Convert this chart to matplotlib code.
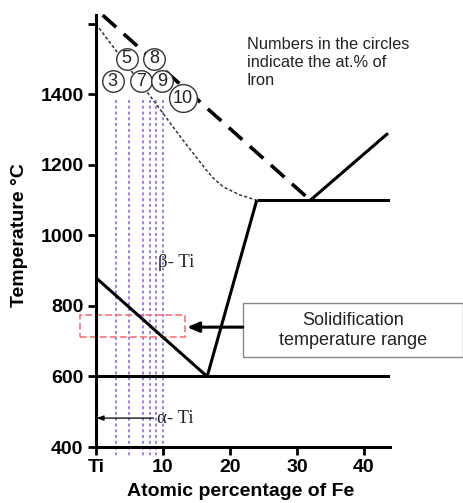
import matplotlib
matplotlib.use("Agg")
import matplotlib.pyplot as plt
from matplotlib.patches import Rectangle

# ---- data ----
x_ticks = [0, 10, 20, 30, 40]
x_ticklabels = ["Ti", "10", "20", "30", "40"]
y_ticks = [400, 600, 800, 1000, 1200, 1400, 1600]
y_ticklabels = ["400", "600", "800", "1000", "1200", "1400", ""]

liquidus_dashed_x = [1.0, 32.0]
liquidus_dashed_y = [1625, 1100]
liquidus_dotted_x = [0, 8.5, 12.8, 16.5, 17.5, 19.0, 21.5, 24.0]
liquidus_dotted_y = [1600, 1385, 1275, 1185, 1163, 1138, 1115, 1100]
right_liq_x = [32.0, 43.6]
right_liq_y = [1100, 1290]
eutectic_hi_x = [24.0, 44.0]
eutectic_hi_y = [1100, 1100]
solvus_x = [16.6, 24.0]
solvus_y = [600, 1100]
beta_transus_x = [0, 16.6]
beta_transus_y = [880, 600]
eutectoid_x = [0, 44.0]
eutectoid_y = [600, 600]

alloy_fe = [3, 5, 7, 8, 9, 10]
alloy_top = 1385
alloy_bottom = 370

circle_labels = ["5", "8", "3", "7", "9", "10"]
circle_x = [4.6, 8.7, 2.5, 6.7, 9.85, 13.0]
circle_y = [1501, 1501, 1438, 1438, 1438, 1390]

solid_range_x = [-2.4, 13.3]
solid_range_y = [712, 774]

# ---- figure ----
plt.rcParams['font.family'] = ['Liberation Sans', 'DejaVu Sans']
fig = plt.figure(figsize=(4.63, 5.03), dpi=100)
ax = fig.add_axes([96/463, 1-447/503, 294/463, 432/503])
ax.set_xlim(0, 43.9)
ax.set_ylim(400, 1625.5)

for s in ['top', 'right']:
    ax.spines[s].set_visible(False)
for s in ['left', 'bottom']:
    ax.spines[s].set_linewidth(2.2)

ax.set_xticks(x_ticks)
ax.set_xticklabels(x_ticklabels, fontweight='bold', fontsize=14)
ax.set_yticks(y_ticks)
ax.set_yticklabels(y_ticklabels, fontweight='bold', fontsize=14)
ax.tick_params(axis='both', direction='out', length=5.5, width=2, pad=3.5, colors='black')

lw = 2.2
ax.plot(liquidus_dashed_x, liquidus_dashed_y, color='black', lw=2.6, dashes=(5, 2.8), clip_on=False)
ax.plot(liquidus_dotted_x, liquidus_dotted_y, color='#333333', lw=1.1, ls=(0, (2, 1.5)))
ax.plot(right_liq_x, right_liq_y, color='black', lw=lw, solid_capstyle='butt')
ax.plot(eutectic_hi_x, eutectic_hi_y, color='black', lw=lw, solid_capstyle='butt')
ax.plot(solvus_x, solvus_y, color='black', lw=lw, solid_capstyle='butt')
ax.plot(beta_transus_x, beta_transus_y, color='black', lw=lw, solid_capstyle='butt')
ax.plot(eutectoid_x, eutectoid_y, color='black', lw=lw, solid_capstyle='butt')

for xv in alloy_fe:
    ax.plot([xv, xv], [alloy_top, alloy_bottom], color='#9b6fe8', lw=1.3,
            ls=(0, (1.6, 1.6)), clip_on=False, zorder=1)

for lab, cx, cy in zip(circle_labels, circle_x, circle_y):
    ms = 20 if len(lab) > 1 else 15.5
    ax.plot(cx, cy, marker='o', ms=ms, mfc='white', mec='#333333', mew=1.0, zorder=5)
    ax.text(cx, cy, lab, ha='center', va='center', fontsize=13, color='#222222', zorder=6)

ax.add_patch(Rectangle((solid_range_x[0], solid_range_y[0]),
                       solid_range_x[1]-solid_range_x[0], solid_range_y[1]-solid_range_y[0],
                       fill=False, ec='#ff6f6f', lw=1.2, ls=(0, (4, 2)), clip_on=False))

ax.annotate('', xy=(13.6, 740), xytext=(21.9, 740),
            arrowprops=dict(arrowstyle='-|>,head_length=0.7,head_width=0.3', color='black', lw=2.2,
                            shrinkA=0, shrinkB=0))

box_left, box_right = 21.9, 54.8
box_bot, box_top = 655, 808
ax.add_patch(Rectangle((box_left, box_bot), box_right-box_left, box_top-box_bot,
                       fill=False, ec='#888888', lw=1.0, clip_on=False))
ax.text(38.4, 730, "Solidification\ntemperature range", ha='center', va='center',
        fontsize=13, color='#222222', linespacing=1.2)

ax.text(22.5, 1562, "Numbers in the circles\nindicate the at.% of\nIron", ha='left', va='top',
        fontsize=11.8, color='#222222', linespacing=1.25)

ax.text(11.9, 922, "β- Ti", ha='center', va='center', fontsize=13.5,
        family=['Liberation Serif', 'DejaVu Serif'], color='#222222')
ax.text(11.9, 482, "α- Ti", ha='center', va='center', fontsize=13.5,
        family=['Liberation Serif', 'DejaVu Serif'], color='#222222')
ax.annotate('', xy=(0.1, 482), xytext=(8.6, 482),
            arrowprops=dict(arrowstyle='-|>,head_length=0.4,head_width=0.15', color='black', lw=0.9,
                            shrinkA=0, shrinkB=0))

fig.text(20/463, 1-235/503, "Temperature °C", rotation=90, ha='center', va='center',
         fontsize=14, fontweight='bold')
fig.text(241/463, 1-492/503, "Atomic percentage of Fe", ha='center', va='center',
         fontsize=14, fontweight='bold')

fig.savefig("out.png", dpi=100)
